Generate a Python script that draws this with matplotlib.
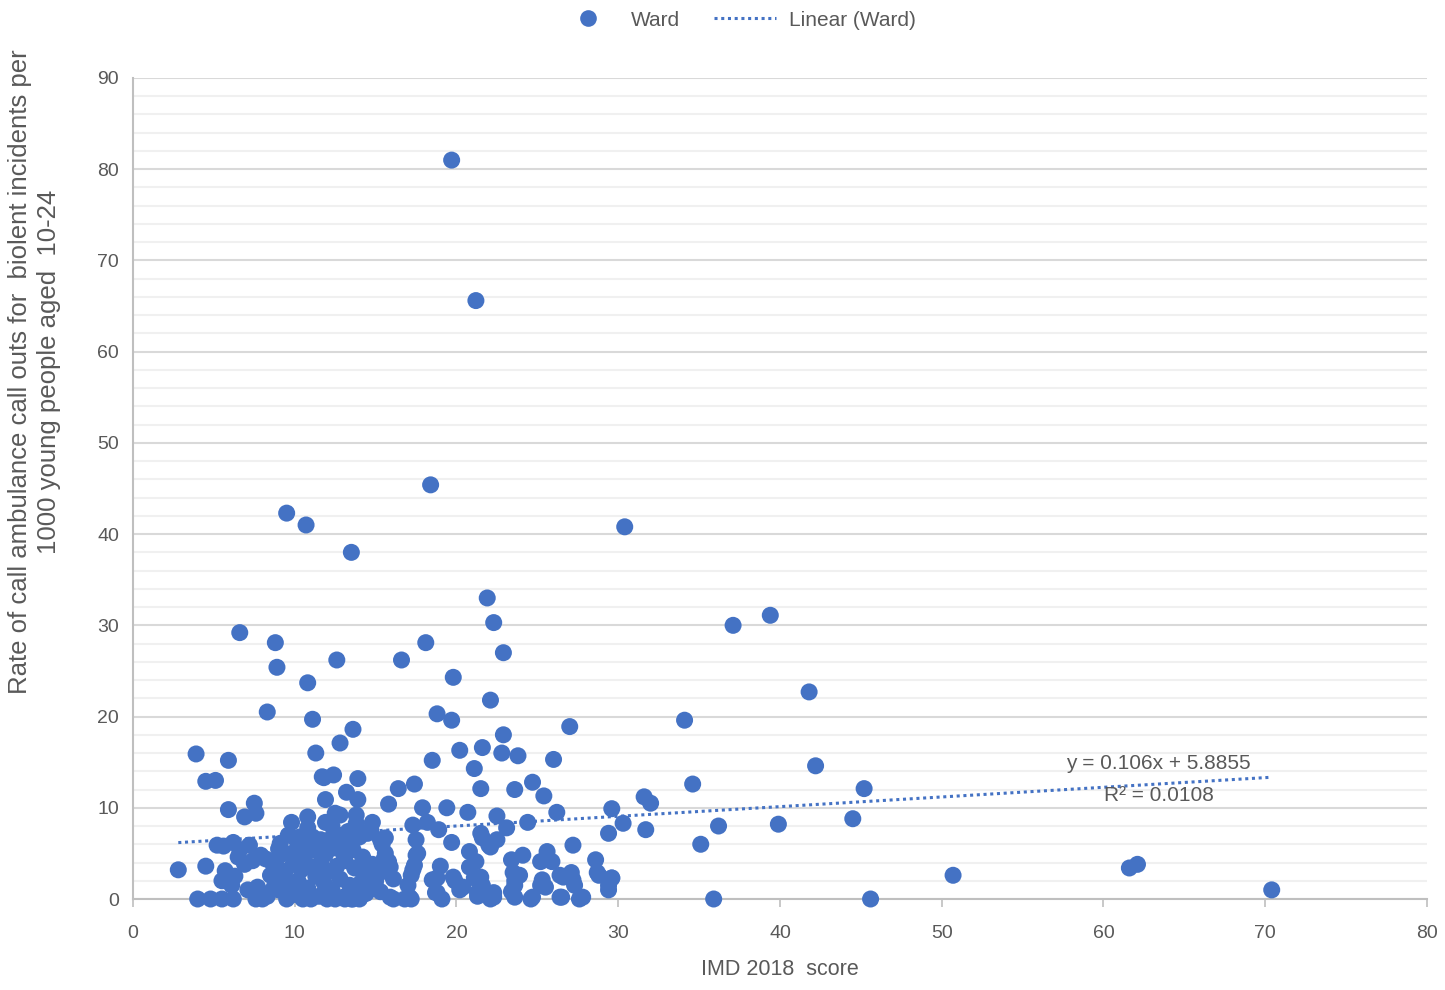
import matplotlib
matplotlib.use("Agg")
import matplotlib.pyplot as plt
from matplotlib.ticker import MultipleLocator
from matplotlib.lines import Line2D

# ---- data ----
imd_score = [
    19.7, 21.2, 18.4, 9.5, 10.7, 13.5, 30.4, 21.9, 22.3, 37.1, 39.4, 6.6, 8.8, 18.1, 22.9, 12.6, 16.6, 8.9, 19.8, 10.8,
    22.1, 41.8, 8.3, 18.8, 19.7, 11.1, 34.1, 27.0, 13.6, 22.9, 12.8, 3.9, 5.9, 20.2, 21.6, 22.8, 23.8, 26.0, 18.5, 11.3,
    42.2, 21.1, 4.5, 5.1, 11.8, 12.4, 13.9, 21.5, 16.4, 17.4, 24.7, 23.6, 34.6, 45.2, 13.2, 13.9, 25.4, 31.6, 32.0, 7.5,
    11.9, 15.8, 5.9, 7.6, 19.4, 17.9, 20.7, 26.2, 29.6, 6.9, 9.8, 10.8, 22.5, 24.4, 30.3, 44.5, 14.8, 36.2, 39.9, 18.9,
    17.3, 14.7, 23.1, 29.4, 31.7, 12.8, 6.2, 5.2, 7.2, 10.1, 11.6, 13.2, 15.6, 17.5, 19.7, 21.6, 22.0, 22.5, 27.2, 35.1,
    7.9, 6.5, 4.5, 2.8, 5.7, 9.1, 10.3, 15.8, 17.5, 19.0, 20.8, 21.2, 23.4, 24.1, 25.6, 25.2, 25.9, 28.6, 28.8, 29.6,
    61.6, 62.1, 50.7, 70.4, 35.9, 45.6, 29.4, 27.6, 26.5, 27.2, 26.6, 25.2, 23.6, 23.4, 24.6, 22.1, 21.6, 21.1, 21.3, 20.2,
    19.9, 18.8, 18.7, 19.1, 17.2, 16.8, 16.1, 17.0, 17.2, 17.4, 15.0, 14.6, 14.1, 13.6, 13.1,
    4.0, 4.8, 5.5, 6.2, 7.6, 8.0, 8.3, 7.1, 6.1, 5.5, 6.3, 7.7, 8.7, 8.5, 9.0, 8.6, 9.0, 6.9, 7.4, 6.6, 5.6, 8.2,
    9.5, 10.0, 10.5, 11.0, 11.5, 12.0, 12.5, 13.0, 13.5, 14.0, 9.6, 10.2, 10.8, 11.3, 11.8, 12.3, 12.8, 13.4, 14.1, 14.6,
    9.4, 9.9, 10.4, 11.0, 11.6, 12.1, 12.6, 13.1, 13.7, 14.3, 9.2, 9.0, 9.8, 10.6, 11.2, 11.9, 12.4, 13.0, 13.6, 14.2,
    14.8, 15.2, 15.0, 10.3, 11.1, 12.0, 12.7, 13.3, 14.0, 9.6, 10.8, 12.3, 13.8, 14.5, 15.4, 15.6, 15.9, 16.1, 14.4, 15.3,
    18.2, 21.5, 22.1, 15.5, 17.6, 17.3, 20.8, 21.5, 15.7, 18.5, 19.8, 20.4, 15.9, 17.1, 18.8, 21.3, 22.3,
    23.5, 23.9, 25.3, 26.4, 27.1, 28.7, 29.6, 23.6, 25.5, 27.3, 29.4, 22.3, 23.6, 24.7, 26.4, 27.8,
    11.7, 11.9, 12.5, 13.8, 9.1, 10.3, 13.4, 15.3,
]
call_rate = [
    81.0, 65.6, 45.4, 42.3, 41.0, 38.0, 40.8, 33.0, 30.3, 30.0, 31.1, 29.2, 28.1, 28.1, 27.0, 26.2, 26.2, 25.4, 24.3, 23.7,
    21.8, 22.7, 20.5, 20.3, 19.6, 19.7, 19.6, 18.9, 18.6, 18.0, 17.1, 15.9, 15.2, 16.3, 16.6, 16.0, 15.7, 15.3, 15.2, 16.0,
    14.6, 14.3, 12.9, 13.0, 13.3, 13.6, 13.2, 12.1, 12.1, 12.6, 12.8, 12.0, 12.6, 12.1, 11.7, 10.9, 11.3, 11.2, 10.5, 10.5,
    10.9, 10.4, 9.8, 9.4, 10.0, 10.0, 9.5, 9.5, 9.9, 9.0, 8.4, 9.0, 9.1, 8.4, 8.3, 8.8, 8.4, 8.0, 8.2, 7.6,
    8.1, 7.6, 7.8, 7.2, 7.6, 9.2, 6.2, 5.9, 5.9, 6.5, 6.5, 6.2, 6.7, 6.5, 6.2, 6.7, 5.9, 6.5, 5.9, 6.0,
    4.8, 4.6, 3.6, 3.2, 3.1, 4.8, 5.2, 4.1, 4.8, 3.6, 5.2, 4.1, 4.3, 4.8, 5.2, 4.1, 4.1, 4.3, 2.6, 2.3,
    3.4, 3.8, 2.6, 1.0, 0.0, 0.0, 1.0, 0.0, 0.2, 2.1, 2.4, 1.5, 2.0, 0.8, 0.0, 0.0, 1.5, 2.3, 0.3, 1.0,
    2.0, 2.3, 0.7, 0.0, 0.0, 0.0, 0.0, 1.5, 2.6, 3.7, 2.0, 1.0, 0.4, 0.0, 0.0,
    0.0, 0.0, 0.0, 0.0, 0.0, 0.0, 0.3, 1.0, 1.5, 2.0, 2.5, 1.3, 1.2, 2.6, 3.3, 4.0, 5.5, 3.8, 4.2, 5.4, 5.8, 4.4,
    0.0, 0.5, 0.0, 0.0, 0.3, 0.0, 0.0, 0.2, 0.0, 0.0, 1.5, 2.0, 1.2, 2.5, 1.8, 1.0, 2.2, 1.5, 1.8, 1.0,
    3.0, 3.8, 3.2, 3.5, 4.0, 3.0, 3.6, 4.2, 3.4, 3.0, 2.2, 1.0, 5.0, 4.6, 5.4, 4.9, 5.6, 5.0, 5.4, 4.6,
    3.8, 2.8, 1.4, 6.0, 6.8, 6.4, 7.0, 7.4, 6.8, 7.0, 7.8, 8.0, 8.3, 7.2, 6.0, 5.0, 3.5, 2.2, 0.6, 0.8,
    8.4, 7.2, 5.7, 4.3, 5.0, 3.2, 3.5, 2.4, 3.2, 2.1, 2.4, 1.3, 0.2, 0.2, 0.7, 0.7, 0.2,
    2.9, 2.6, 2.1, 2.6, 2.9, 2.9, 2.3, 1.5, 1.3, 1.5, 1.5, 0.7, 0.2, 0.2, 0.2, 0.2,
    13.4, 8.4, 9.4, 9.2, 6.1, 6.8, 7.2, 6.5,
]
trend_slope = 0.106
trend_intercept = 5.8855
trend_r2 = 0.0108
trend_x_range = [2.8, 70.4]

x_ticks = [0, 10, 20, 30, 40, 50, 60, 70, 80]
y_ticks = [0, 10, 20, 30, 40, 50, 60, 70, 80, 90]

BLUE = "#4472C4"
TXT = "#595959"
FONT = "Liberation Sans"

fig = plt.figure(figsize=(14.45, 9.9), dpi=100)
ax = fig.add_axes([133 / 1445, 1 - 899 / 990, (1427 - 133) / 1445, (899 - 78) / 990])

ax.set_xlim(0, 80)
ax.set_ylim(0, 90)
ax.set_xticks(x_ticks)
ax.set_yticks(y_ticks)
ax.yaxis.set_minor_locator(MultipleLocator(2))
ax.tick_params(axis="y", which="both", length=0, labelsize=14, colors=TXT, pad=10)
ax.tick_params(axis="x", which="major", length=6, width=1.2, color="#BFBFBF", labelsize=14,
               labelcolor=TXT, pad=13, direction="out")
for lab in ax.get_xticklabels() + ax.get_yticklabels():
    lab.set_fontfamily(FONT)

ax.grid(axis="y", which="major", color="#D9D9D9", linewidth=1.5)
ax.grid(axis="y", which="minor", color="#F0F0F0", linewidth=1.5)
ax.set_axisbelow(True)
for s in ["top", "right"]:
    ax.spines[s].set_visible(False)
ax.spines["left"].set_color("#BFBFBF")
ax.spines["bottom"].set_color("#BFBFBF")
ax.spines["left"].set_linewidth(1.5)
ax.spines["bottom"].set_linewidth(1.5)

ax.scatter(imd_score, call_rate, s=150, color=BLUE, edgecolors="none", zorder=3, clip_on=False)

tx = trend_x_range
ty = [trend_slope * v + trend_intercept for v in tx]
ax.plot(tx, ty, linestyle=(0, (1, 1.2)), color=BLUE, linewidth=2.2, zorder=4)

ax.text(63.4, 14.9, f"y = {trend_slope}x + {trend_intercept}", ha="center", va="center",
        fontsize=15, color=TXT, family=FONT, zorder=5)
ax.text(63.4, 11.4, f"R² = {trend_r2}", ha="center", va="center",
        fontsize=15, color=TXT, family=FONT, zorder=5)

ax.set_xlabel("IMD 2018  score", fontsize=15.5, color=TXT, family=FONT, labelpad=12)
fig.text(0.024, 1 - 372 / 990,
         "Rate of call ambulance call outs for  biolent incidents per\n1000 young people aged  10-24",
         rotation=90, ha="center", va="center", fontsize=18.5, color=TXT, family=FONT,
         multialignment="center", linespacing=1.25)

handles = [
    Line2D([0], [0], marker="o", color="none", markerfacecolor=BLUE, markeredgecolor="none", markersize=12),
    Line2D([0], [0], color=BLUE, linestyle=(0, (1, 1.2)), linewidth=2.2),
]
leg = fig.legend(handles, ["Ward", "Linear (Ward)"], loc="center", bbox_to_anchor=(736 / 1445, 1 - 20 / 990),
                 ncol=2, frameon=False, prop={"family": FONT, "size": 15}, handlelength=3.0,
                 columnspacing=1.6, handletextpad=0.6)
for t in leg.get_texts():
    t.set_color(TXT)

fig.savefig("out.png", dpi=100)
